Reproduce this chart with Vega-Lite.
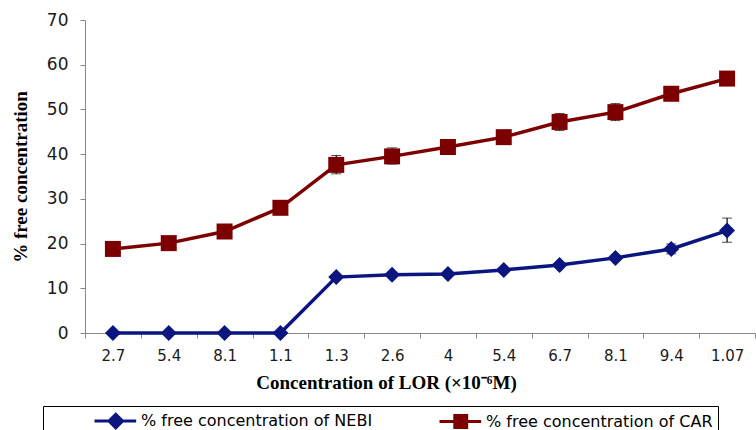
{
  "$schema": "https://vega.github.io/schema/vega-lite/v6.json",
  "autosize": "none",
  "width": 670,
  "height": 313,
  "padding": {"left": 85, "top": 20, "right": 1, "bottom": 97},
  "background": "white",
  "config": {
    "view": {"stroke": null},
    "axis": {"grid": false, "domainColor": "#888", "tickColor": "#888", "labelColor": "#1a1a1a", "labelFont": "DejaVu Sans", "labelFontSize": 15, "tickSize": 5}
  },
  "data": {"values": [
    {"idx": 1, "series": "% free concentration of NEBI", "v": 0},
    {"idx": 2, "series": "% free concentration of NEBI", "v": 0},
    {"idx": 3, "series": "% free concentration of NEBI", "v": 0},
    {"idx": 4, "series": "% free concentration of NEBI", "v": 0},
    {"idx": 5, "series": "% free concentration of NEBI", "v": 12.5},
    {"idx": 6, "series": "% free concentration of NEBI", "v": 13.0},
    {"idx": 7, "series": "% free concentration of NEBI", "v": 13.2},
    {"idx": 8, "series": "% free concentration of NEBI", "v": 14.1},
    {"idx": 9, "series": "% free concentration of NEBI", "v": 15.2},
    {"idx": 10, "series": "% free concentration of NEBI", "v": 16.8},
    {"idx": 11, "series": "% free concentration of NEBI", "v": 18.8, "lo": 17.7, "hi": 19.9},
    {"idx": 12, "series": "% free concentration of NEBI", "v": 22.9, "lo": 20.3, "hi": 25.7},
    {"idx": 1, "series": "% free concentration of CAR", "v": 18.8},
    {"idx": 2, "series": "% free concentration of CAR", "v": 20.1},
    {"idx": 3, "series": "% free concentration of CAR", "v": 22.7},
    {"idx": 4, "series": "% free concentration of CAR", "v": 28.0},
    {"idx": 5, "series": "% free concentration of CAR", "v": 37.6, "lo": 35.6, "hi": 39.7},
    {"idx": 6, "series": "% free concentration of CAR", "v": 39.5, "lo": 37.8, "hi": 41.4},
    {"idx": 7, "series": "% free concentration of CAR", "v": 41.6},
    {"idx": 8, "series": "% free concentration of CAR", "v": 43.8},
    {"idx": 9, "series": "% free concentration of CAR", "v": 47.2, "lo": 45.3, "hi": 49.1},
    {"idx": 10, "series": "% free concentration of CAR", "v": 49.4, "lo": 47.5, "hi": 51.3},
    {"idx": 11, "series": "% free concentration of CAR", "v": 53.5},
    {"idx": 12, "series": "% free concentration of CAR", "v": 56.9}
  ]},
  "encoding": {
    "x": {"field": "idx", "type": "ordinal", "sort": "ascending",
      "scale": {"paddingInner": 0, "paddingOuter": 0},
      "axis": {"title": "Concentration of LOR (×10⁻⁶M)", "titleFont": "Liberation Serif", "titleFontSize": 19, "titleFontWeight": "bold", "titleColor": "#000", "titlePadding": 10, "titleX": 301,
        "labelAngle": 0, "labelPadding": 10, "tickBand": "extent",
        "labelExpr": "['2.7','5.4','8.1','1.1','1.3','2.6','4','5.4','6.7','8.1','9.4','1.07'][datum.value-1]"}}
  },
  "layer": [
    {
      "mark": {"type": "line", "strokeWidth": 3.5},
      "encoding": {
        "y": {"field": "v", "type": "quantitative", "scale": {"domain": [0, 70]},
          "axis": {"values": [0, 10, 20, 30, 40, 50, 60, 70], "title": "% free concentration", "titleFont": "Liberation Serif", "titleFontSize": 19, "titleFontWeight": "bold", "titleColor": "#000", "titlePadding": 16, "labelPadding": 12, "labelFontSize": 17}},
        "color": {"field": "series", "type": "nominal", "sort": ["% free concentration of NEBI", "% free concentration of CAR"],
          "scale": {"domain": ["% free concentration of NEBI", "% free concentration of CAR"], "range": ["#0a1580", "#7d0000"]},
          "legend": {
            "orient": "none", "legendX": -42, "legendY": 386, "direction": "horizontal",
            "title": " ", "titleOrient": "left", "titleFontSize": 10, "titlePadding": 45,
            "strokeColor": "#000", "padding": 5,
            "symbolSize": 289, "symbolStrokeWidth": 3,
            "labelFont": "DejaVu Sans", "labelFontSize": 16, "labelColor": "#000", "labelLimit": 600, "labelOffset": 28,
            "columnPadding": 60,
            "labelExpr": "datum.label + (indexof(datum.label, 'CAR') >= 0 ? '\u00a0\u00a0\u00a0\u00a0\u00a0\u00a0\u00a0\u00a0' : '')",
            "encode": {"symbols": {"update": {
              "shape": {"signal": "indexof(datum.value, 'NEBI') >= 0 ? 'M-1,0H3.9M1.5,-0.8L2.3,0L1.5,0.8L0.7,0Z' : 'M-1,0H3.9M0.8,-0.7H2.2V0.7H0.8Z'"},
              "fill": {"signal": "indexof(datum.value, 'NEBI') >= 0 ? '#0a1580' : '#7d0000'"}
            }}}
          }}
      }
    },
    {
      "mark": {"type": "errorbar", "ticks": {"size": 10, "color": "#000"}, "rule": {"color": "#000", "strokeWidth": 1.2}},
      "encoding": {
        "y": {"field": "lo", "type": "quantitative", "title": "% free concentration"},
        "y2": {"field": "hi"}
      }
    },
    {
      "transform": [{"filter": "indexof(datum.series, 'NEBI') >= 0"}],
      "mark": {"type": "point", "shape": "diamond", "filled": true, "opacity": 1, "strokeWidth": 0, "size": 256, "color": "#0a1580"},
      "encoding": {
        "y": {"field": "v", "type": "quantitative", "title": "% free concentration"}
      }
    },
    {
      "transform": [{"filter": "indexof(datum.series, 'CAR') >= 0"}],
      "mark": {"type": "point", "shape": "square", "filled": true, "opacity": 1, "strokeWidth": 0, "size": 256, "color": "#7d0000"},
      "encoding": {
        "y": {"field": "v", "type": "quantitative", "title": "% free concentration"}
      }
    }
  ]
}
